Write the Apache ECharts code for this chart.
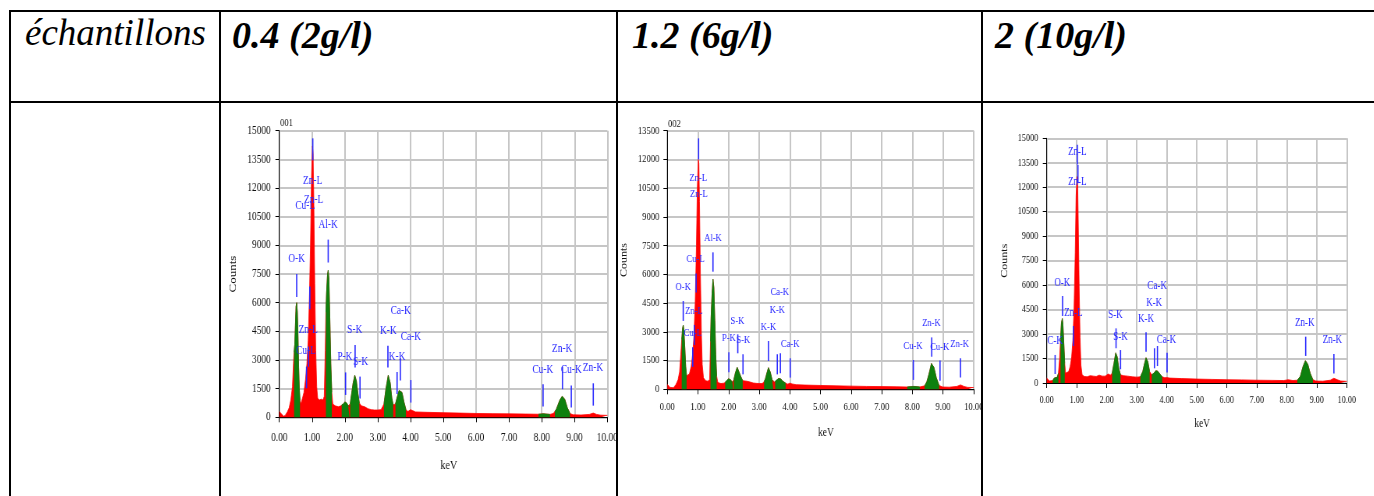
<!DOCTYPE html>
<html><head><meta charset="utf-8">
<script src="https://cdn.jsdelivr.net/npm/echarts@6/dist/echarts.min.js"></script>
<style>
html,body{margin:0;padding:0;background:#fff;width:1374px;height:496px;overflow:hidden;}
.ln{position:absolute;background:#000;z-index:2;}
.hd{position:absolute;font-family:"Liberation Serif","Times New Roman",serif;line-height:36px;white-space:nowrap;color:#000;}
.ch{position:absolute;transform-origin:0 0;overflow:hidden;}
</style></head><body>
<div class="ln" style="left:9px;top:10px;width:1365px;height:2px"></div>
<div class="ln" style="left:9px;top:101px;width:1365px;height:2px"></div>
<div class="ln" style="left:9px;top:10px;width:2px;height:486px"></div>
<div class="ln" style="left:219px;top:10px;width:2px;height:486px"></div>
<div class="ln" style="left:616px;top:10px;width:2px;height:486px"></div>
<div class="ln" style="left:981px;top:10px;width:2px;height:486px"></div>
<div id="h0" class="hd" style="left:25px;top:15px;font-size:37px;font-style:italic"></div>
<div id="h1" class="hd" style="left:232px;top:17px;font-size:38px;font-style:italic;font-weight:bold"></div>
<div id="h2" class="hd" style="left:632px;top:17px;font-size:38px;font-style:italic;font-weight:bold"></div>
<div id="h3" class="hd" style="left:995px;top:17px;font-size:38px;font-style:italic;font-weight:bold"></div>
<div id="c0" class="ch"></div>
<div id="c1" class="ch"></div>
<div id="c2" class="ch"></div>
<script>
// ---------- data ----------
const headerLabels = ['échantillons', '0.4 (2g/l)', '1.2 (6g/l)', '2 (10g/l)'];
const sampleTitles = ['001', '002', ''];
const yMaxes = [15000, 13500, 15000];
const yStep = 1500;
const xMin = 0, xMax = 10, xStep = 1;

// spectrum [keV, counts]
const spectrum1 = [[0,300],[0.03,250],[0.08,150],[0.13,50],[0.18,100],[0.25,300],[0.30,500],[0.35,900],[0.40,1600],[0.43,2800],[0.45,3400],[0.47,3800],[0.49,4800],[0.51,5800],[0.53,6000],[0.55,5500],[0.57,4200],[0.59,2600],[0.61,1500],[0.63,900],[0.66,700],[0.70,800],[0.75,1300],[0.80,2000],[0.84,2800],[0.88,4000],[0.92,6500],[0.95,9000],[0.98,12500],[1.01,14200],[1.03,13800],[1.05,11500],[1.08,7000],[1.11,3500],[1.14,1600],[1.17,1000],[1.22,900],[1.28,950],[1.33,900],[1.37,1100],[1.40,3500],[1.42,5500],[1.44,6500],[1.47,7500],[1.49,7700],[1.51,7300],[1.54,5200],[1.57,2800],[1.60,1300],[1.63,700],[1.70,600],[1.80,550],[1.88,600],[1.90,650],[1.95,700],[2.00,800],[2.05,750],[2.10,600],[2.14,560],[2.16,700],[2.20,1200],[2.25,1800],[2.30,2200],[2.35,1900],[2.40,1200],[2.44,750],[2.50,600],[2.60,550],[2.70,450],[2.80,400],[2.90,380],[3.00,380],[3.10,400],[3.19,700],[3.25,1500],[3.32,2200],[3.38,1800],[3.43,1000],[3.47,650],[3.50,600],[3.54,700],[3.60,1100],[3.65,1400],[3.69,1500],[3.74,1300],[3.80,800],[3.86,400],[3.92,300],[4.00,400],[4.06,350],[4.15,280],[4.5,260],[5.0,240],[5.5,220],[6.0,200],[6.5,190],[7.0,180],[7.5,170],[7.9,160],[8.05,180],[8.25,150],[8.35,200],[8.40,300],[8.45,450],[8.55,900],[8.62,1100],[8.70,950],[8.78,500],[8.86,200],[8.95,130],[9.2,120],[9.45,150],[9.57,220],[9.67,150],[9.8,110],[10.0,100]];
const spectrum2 = [[0,250],[0.04,200],[0.09,100],[0.14,30],[0.20,80],[0.28,250],[0.35,500],[0.40,900],[0.44,1800],[0.47,2600],[0.50,3200],[0.52,3350],[0.54,3100],[0.57,2200],[0.60,1200],[0.63,700],[0.67,600],[0.72,800],[0.78,1200],[0.83,1900],[0.87,2800],[0.91,4500],[0.95,7500],[0.98,10500],[1.01,12000],[1.03,11800],[1.05,9800],[1.08,6000],[1.11,3000],[1.14,1300],[1.18,600],[1.25,450],[1.32,420],[1.38,500],[1.41,2500],[1.43,3800],[1.46,5000],[1.49,5750],[1.52,5300],[1.55,3600],[1.58,1800],[1.61,700],[1.65,350],[1.75,300],[1.85,320],[1.89,380],[1.92,400],[2.00,550],[2.06,500],[2.12,380],[2.15,420],[2.17,500],[2.22,850],[2.28,1150],[2.33,1100],[2.39,700],[2.46,450],[2.50,420],[2.60,420],[2.70,380],[2.80,330],[2.90,310],[3.00,300],[3.10,300],[3.16,400],[3.20,550],[3.25,850],[3.30,1130],[3.36,900],[3.42,500],[3.46,400],[3.50,380],[3.52,420],[3.56,450],[3.63,560],[3.70,540],[3.77,420],[3.86,320],[3.93,270],[4.00,320],[4.07,280],[4.2,240],[4.5,220],[5.0,200],[5.5,180],[6.0,165],[6.5,150],[7.0,140],[7.5,130],[7.83,120],[8.05,150],[8.24,120],[8.40,180],[8.47,400],[8.54,800],[8.62,1350],[8.70,1150],[8.78,600],[8.87,200],[8.98,120],[9.2,110],[9.45,150],[9.57,230],[9.68,150],[9.8,100],[10.0,90]];
const spectrum3 = [[0,300],[0.04,250],[0.09,120],[0.14,60],[0.20,150],[0.25,300],[0.30,400],[0.35,350],[0.39,600],[0.43,1500],[0.46,2700],[0.49,3700],[0.52,3950],[0.54,3600],[0.57,2400],[0.60,1200],[0.63,600],[0.68,500],[0.73,700],[0.78,1000],[0.83,1600],[0.87,2600],[0.91,4500],[0.95,8000],[0.98,11500],[1.01,12650],[1.03,12300],[1.05,10000],[1.08,6000],[1.11,2800],[1.14,1100],[1.18,500],[1.25,400],[1.35,380],[1.45,450],[1.50,550],[1.56,420],[1.65,400],[1.75,480],[1.85,420],[1.95,420],[2.05,550],[2.12,480],[2.18,600],[2.24,1200],[2.30,1850],[2.35,1600],[2.40,900],[2.46,500],[2.55,450],[2.70,420],[2.85,380],[3.00,360],[3.12,380],[3.20,700],[3.26,1200],[3.31,1550],[3.37,1300],[3.43,700],[3.50,500],[3.57,600],[3.64,750],[3.70,720],[3.77,550],[3.85,380],[3.93,320],[4.00,330],[4.1,300],[4.5,270],[5.0,240],[5.5,220],[6.0,200],[6.5,190],[7.0,170],[7.5,160],[7.9,150],[8.05,200],[8.2,150],[8.35,170],[8.45,400],[8.54,1000],[8.62,1370],[8.70,1150],[8.78,600],[8.87,200],[8.97,120],[9.2,110],[9.45,170],[9.57,290],[9.68,200],[9.8,120],[10.0,100]];

// fitted peak windows [start keV, end keV] (green)
const windows1 = [[0.45,0.63],[1.42,1.60],[1.90,2.14],[2.16,2.44],[3.19,3.47],[3.54,3.86],[7.9,8.25],[8.40,8.86]];
const windows2 = [[0.47,0.63],[1.41,1.61],[1.89,2.15],[2.17,2.46],[3.16,3.46],[3.52,3.86],[7.83,8.24],[8.40,8.87]];
const windows3 = [[0.20,0.39],[0.46,0.60],[2.18,2.46],[3.12,3.43],[3.50,3.85],[8.35,8.87]];

// element marker lines [keV, counts from, counts to]
const markers1 = [[1.02,13450,14600],[0.93,5650,6850],[0.53,6300,7500],[1.49,8100,9300],[0.89,2650,3700],[0.83,1520,2650],[2.02,1170,2350],[2.31,2600,3780],[2.46,980,2130],[3.31,2600,3750],[3.59,1220,2370],[3.69,1920,3090],[4.01,770,1950],[8.04,560,1730],[8.63,1470,2650],[8.90,510,1670],[9.57,610,1780]];
const markers2 = [[1.02,12000,13100],[1.49,6140,7150],[0.94,5050,6050],[0.52,3570,4610],[0.88,2310,3360],[0.83,1180,2190],[2.30,1880,2870],[2.01,890,1930],[2.47,780,1830],[3.30,1480,2520],[3.59,780,1830],[3.69,840,1880],[4.01,610,1620],[8.03,490,1530],[8.63,1700,2710],[8.90,450,1500],[9.57,610,1620]];
const markers3 = [[1.02,13400,14600],[1.04,12250,13370],[0.53,4110,5330],[0.89,2270,3500],[0.28,550,1720],[2.31,2130,3350],[2.46,840,2020],[3.31,1920,3110],[3.59,900,2130],[3.69,1040,2270],[4.01,650,1860],[8.63,1660,2840],[9.57,590,1780]];

// element labels [text, keV, counts]
const labels1 = [['Zn-L',1.015,12365],['Zn-L',1.046,11371],['Cu-L',0.79,11057],['Al-K',1.49,10063],['O-K',0.53,8284],['Zn-L',0.88,4569],['Cu-L',0.81,3488],['P-K',2.00,3174],['S-K',2.30,4569],['S-K',2.48,2877],['K-K',3.32,4534],['K-K',3.59,3139],['Ca-K',3.70,5563],['Ca-K',4.01,4203],['Cu-K',8.03,2494],['Zn-K',8.62,3558],['Cu-K',8.90,2477],['Zn-K',9.56,2564]];
const labels2 = [['Zn-L',1.01,11049],['Zn-L',1.03,10179],['Al-K',1.49,7917],['Cu-L',0.92,6803],['O-K',0.52,5359],['Zn-L',0.87,4089],['Cu-L',0.83,2958],['S-K',2.29,3567],['P-K',2.01,2697],['S-K',2.48,2575],['Ca-K',3.67,5081],['K-K',3.59,4141],['K-K',3.30,3271],['Ca-K',4.01,2349],['Cu-K',8.02,2279],['Zn-K',8.62,3480],['Cu-K',8.89,2227],['Zn-K',9.54,2349]];
const labels3 = [['Zn-L',1.02,14145],['Zn-L',1.02,12326],['O-K',0.52,6112],['Zn-L',0.89,4272],['C-K',0.28,2575],['S-K',2.29,4170],['S-K',2.46,2800],['K-K',3.31,3924],['K-K',3.58,4926],['Ca-K',3.68,5948],['Ca-K',3.99,2637],['Zn-K',8.60,3659],['Zn-K',9.52,2637]];

// ---------- layout ----------
headerLabels.forEach((t, i) => { document.getElementById('h' + i).textContent = t; });

const S = 0.78; // horizontal squeeze of the pasted spectra
const FONT = '"Liberation Serif","Times New Roman",serif';
const RED = '#ff0000', GREEN = '#0e800e', BLUE = '#2828ff', TXT = '#111';
const GRIDC = '#c6c6c6';
const layouts = [
  {box:[221,104,616,496], plot:[279.3,130.7,607.7,417.3], tick:12, lab:12, name:13, title:[280,123], gapY:52.5, gapX:42, xm:15, ym:11},
  {box:[618,104,981,496], plot:[667.3,130.7,974,389.3], tick:11, lab:11, name:12, title:[668,124], gapY:49, gapX:37.5, xm:12, ym:10.3},
  {box:[983,104,1374,496], plot:[1046.7,138.3,1347,383], tick:10.5, lab:11.5, name:12, title:null, gapY:47.5, gapX:35, xm:11.3, ym:10.8}
];
const spectra = [spectrum1, spectrum2, spectrum3];
const windowsAll = [windows1, windows2, windows3];
const markersAll = [markers1, markers2, markers3];
const labelsAll = [labels1, labels2, labels3];

layouts.forEach((L, i) => {
  const [x0, y0, x1, y1] = L.box;
  const [pl, pt, pr, pb] = L.plot;
  const el = document.getElementById('c' + i);
  el.style.left = x0 + 'px';
  el.style.top = y0 + 'px';
  el.style.width = ((x1 - x0) / S) + 'px';
  el.style.height = (y1 - y0) + 'px';
  el.style.transform = 'scaleX(' + S + ')';
  const chart = echarts.init(el, null, {renderer: 'canvas'});
  const spec = spectra[i];
  const labs = labelsAll[i];
  const series = [];
  series.push({type:'line', data: spec, symbol:'none', silent:true, z:2,
    lineStyle:{color:RED, width:0.8}, areaStyle:{color:RED, opacity:1}});
  windowsAll[i].forEach(w => {
    series.push({type:'line', symbol:'none', silent:true, z:3,
      data: spec.filter(p => p[0] >= w[0] - 1e-9 && p[0] <= w[1] + 1e-9),
      lineStyle:{color:GREEN, width:0.8}, areaStyle:{color:GREEN, opacity:1}});
  });
  series.push({type:'custom', z:5, silent:true, data: markersAll[i], encode:{x:0, y:[1,2]},
    renderItem: (params, api) => {
      const a = api.coord([api.value(0), api.value(1)]);
      const b = api.coord([api.value(0), api.value(2)]);
      return {type:'line', shape:{x1:a[0], y1:a[1], x2:b[0], y2:b[1]}, style:{stroke:BLUE, lineWidth:1.6}};
    }});
  series.push({type:'custom', z:6, silent:true, data: labs.map(l => [l[1], l[2]]), encode:{x:0, y:1},
    renderItem: (params, api) => {
      const p = api.coord([api.value(0), api.value(1)]);
      return {type:'text', x:p[0], y:p[1], style:{text: labs[params.dataIndex][0], fill:BLUE,
        fontSize:L.lab, fontFamily:FONT, align:'center', verticalAlign:'middle'}};
    }});
  const opt = {
    animation:false,
    grid:{left:(pl - x0) / S, right:(x1 - pr) / S, top:pt - y0, bottom:y1 - pb, containLabel:false, outerBoundsMode:'none'},
    xAxis:{type:'value', min:xMin, max:xMax, interval:xStep,
      name:'keV', nameLocation:'middle', nameGap:L.gapX,
      nameTextStyle:{fontFamily:FONT, fontSize:L.name, color:TXT, padding:[0,0,0,14]},
      axisLine:{show:true, onZero:false, lineStyle:{color:'#000', width:1}},
      axisTick:{show:true, length:5, lineStyle:{color:'#000'}},
      axisLabel:{formatter:v => v.toFixed(2), fontFamily:FONT, fontSize:L.tick, color:TXT, margin:L.xm, showMinLabel:true, showMaxLabel:true},
      splitLine:{show:true, lineStyle:{color:GRIDC, width:2}}},
    yAxis:{type:'value', min:0, max:yMaxes[i], interval:yStep,
      name:'Counts', nameLocation:'middle', nameGap:L.gapY, nameRotate:90,
      nameTextStyle:{fontFamily:FONT, fontSize:L.name, color:TXT},
      axisLine:{show:true, lineStyle:{color:'#000', width:1}},
      axisTick:{show:true, length:5, lineStyle:{color:'#000'}},
      axisLabel:{formatter:v => String(v), fontFamily:FONT, fontSize:L.tick, color:TXT, margin:L.ym, showMinLabel:true, showMaxLabel:true},
      splitLine:{show:true, lineStyle:{color:GRIDC, width:2}}},
    series: series
  };
  if (sampleTitles[i]) {
    opt.title = {text: sampleTitles[i], left:(L.title[0] - x0) / S, top:L.title[1] - 5.5 - y0, padding:0,
      textStyle:{fontFamily:FONT, fontSize:11, fontWeight:'normal', color:TXT}};
  }
  chart.setOption(opt);
});
</script>
</body></html>
